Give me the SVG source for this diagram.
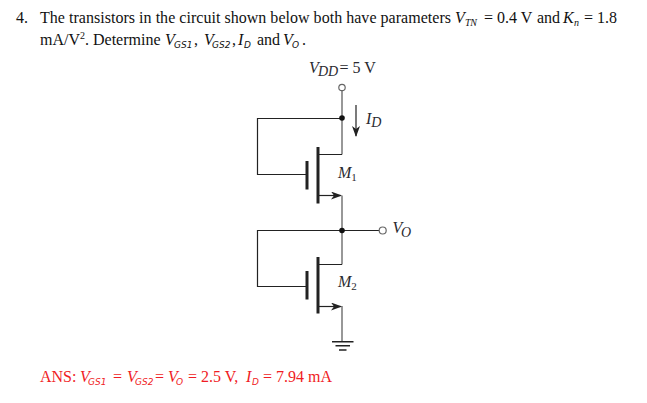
<svg xmlns="http://www.w3.org/2000/svg" width="647" height="403" viewBox="0 0 647 403">
<style>
.t{font-family:"Liberation Serif","Times New Roman",serif;font-size:16px;fill:#111}
.i{font-style:italic}
.n{font-family:"Liberation Serif",serif;font-size:10px;font-style:italic}
.m{font-family:"DejaVu Sans",sans-serif;font-size:9px;font-style:italic}
.r{fill:#f01c24}
.c{font-family:"Liberation Serif",serif;fill:#2a2a30;font-size:16px}
.w{fill:none;stroke:#222;stroke-width:1.2}
.g{fill:none;stroke:#777;stroke-width:1.5}
.b{fill:none;stroke:#222;stroke-width:3}
.d{fill:#111}
.o{fill:#fff;stroke:#666;stroke-width:1.2}
</style>
<defs>
<marker id="a" markerWidth="12" markerHeight="8" refX="10" refY="4" orient="auto" markerUnits="userSpaceOnUse"><path d="M0 0L11 4L0 8L3 4Z" fill="#222"/></marker>
</defs>
<rect width="647" height="403" fill="#fff"/>
<g id="question">
<text class="t" x="16" y="23">4.</text>
<text class="t" x="40" y="23" textLength="411" lengthAdjust="spacing">The transistors in the circuit shown below both have parameters</text>
<text class="t" y="23"><tspan class="i" x="455">V</tspan><tspan class="n" x="465" dy="3" textLength="12">TN</tspan><tspan x="484" dy="-3">=</tspan><tspan x="497">0.4 V</tspan><tspan x="537">and</tspan><tspan class="i" x="563">K</tspan><tspan class="n" x="574" dy="3">n</tspan><tspan x="584" dy="-3">=</tspan><tspan x="597">1.8</tspan></text>
<text class="t" y="45"><tspan x="40">mA/V</tspan><tspan font-size="10" dy="-6">2</tspan><tspan dy="6">. Determine</tspan><tspan class="i" x="165">V</tspan><tspan class="m" x="174" dy="3">GS1</tspan><tspan x="194" dy="-3">,</tspan><tspan class="i" x="204">V</tspan><tspan class="m" x="212" dy="3">GS2</tspan><tspan x="232" dy="-3">,</tspan><tspan class="i" x="238">I</tspan><tspan class="m" x="244" dy="3">D</tspan><tspan x="257" dy="-3">and</tspan><tspan class="i" x="283">V</tspan><tspan class="m" x="292" dy="3">O</tspan><tspan x="302" dy="-3">.</tspan></text>
</g>
<g id="connectors">
<path class="g" d="M342 91V154.500M342 195.500V264.500M342 306V341"/>
<path class="w" d="M342 118.500H257.500V174.500H306M342 230.500H257.500V286.500H306M342 230.500H379M318 154.500H342M318 264.500H342"/>
<path class="w" d="M318 195.500H341" marker-end="url(#a)"/>
<path class="w" d="M318 306.500H341" marker-end="url(#a)"/>
<path class="w" d="M356 105V136" marker-end="url(#a)"/>
</g>
<g id="vdd">
<circle class="o" cx="342" cy="87.500" r="3.200"/>
<text class="c" y="73" font-size="17"><tspan x="309" font-style="italic">V</tspan><tspan font-style="italic" font-size="14" x="318" dy="3">DD</tspan><tspan x="339.500" dy="-3">= 5 V</tspan></text>
</g>
<g id="id-label"><text class="c" x="366" y="124" font-style="italic" font-size="17">I<tspan font-size="14" dy="3">D</tspan></text></g>
<g id="m1">
<path class="b" d="M307 161V189.500M318 147V203.500"/>
<text class="c" x="338" y="178" font-style="italic" font-size="15">M<tspan font-size="11" dy="3" font-style="normal">1</tspan></text>
</g>
<g id="junction1"><circle class="d" cx="342" cy="118" r="2.800"/></g>
<g id="junction2"><circle class="d" cx="342" cy="230.500" r="2.800"/></g>
<g id="vo">
<circle class="o" cx="382.700" cy="230.500" r="3.500"/>
<text class="c" x="392.500" y="233" font-style="italic" font-size="17">V<tspan font-size="14" dy="4" x="401">O</tspan></text>
</g>
<g id="m2">
<path class="b" d="M307 271V299.500M318 257V313.500"/>
<text class="c" x="338" y="287" font-style="italic" font-size="15">M<tspan font-size="11" dy="3" font-style="normal">2</tspan></text>
</g>
<g id="ground">
<path d="M332 341.700H353.500M335.500 345.800H350M339 350H346.500" fill="none" stroke="#222" stroke-width="1.500"/>
</g>
<g id="answer">
<text class="t r" y="382"><tspan x="40">ANS:</tspan><tspan class="i" x="80">V</tspan><tspan class="m r" x="88" dy="3">GS1</tspan><tspan x="113" dy="-3">=</tspan><tspan class="i" x="127">V</tspan><tspan class="m r" x="135" dy="3">GS2</tspan><tspan x="155" dy="-3">=</tspan><tspan class="i" x="168">V</tspan><tspan class="m r" x="176" dy="3">O</tspan><tspan x="188" dy="-3">=</tspan><tspan x="201">2.5 V,</tspan><tspan class="i" x="246">I</tspan><tspan class="m r" x="252" dy="3">D</tspan><tspan x="263" dy="-3">=</tspan><tspan x="276">7.94 mA</tspan></text>
</g>
</svg>
